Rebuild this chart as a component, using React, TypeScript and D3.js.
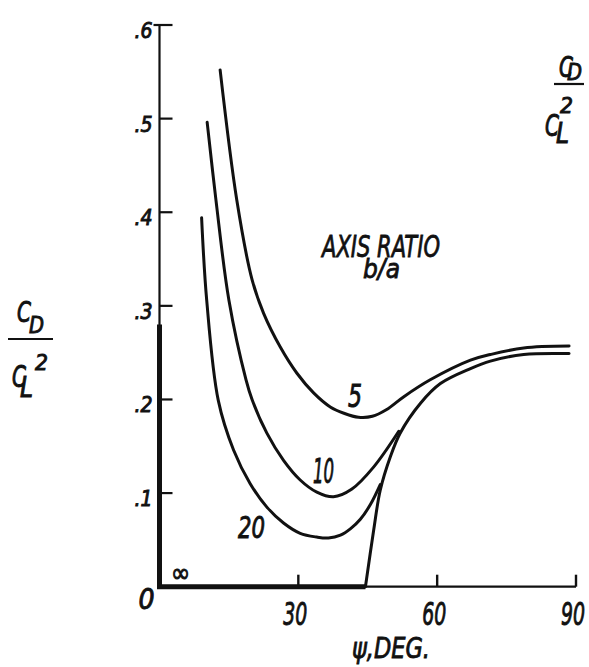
import React from "react";
import * as d3 from "d3";

// ---- data ----
const xTicks = [30, 60, 90];
const xTickLabels = ["30", "60", "90"];
const yTicks = [0, 0.1, 0.2, 0.3, 0.4, 0.5, 0.6];
const yTickLabels = ["0", ".1", ".2", ".3", ".4", ".5", ".6"];

const psi5 = [13.1, 16.7, 20.0, 22.5, 26.1, 29.7, 33.3, 36.9, 40.0, 43.0, 46.0, 49.0, 52.8, 58.5, 67.2, 71.5, 78.7, 88.5];
const cd5 = [0.552, 0.413, 0.328, 0.292, 0.256, 0.228, 0.207, 0.192, 0.185, 0.181, 0.182, 0.189, 0.203, 0.221, 0.242, 0.248, 0.255, 0.257];

const psi10 = [10.3, 12.2, 15.0, 18.7, 20.0, 23.2, 26.8, 30.4, 34.0, 37.6, 41.5, 46.3, 51.7];
const cd10 = [0.496, 0.413, 0.306, 0.221, 0.2, 0.164, 0.135, 0.114, 0.101, 0.096, 0.104, 0.128, 0.166];

const psi20 = [9.1, 10.2, 12.7, 16.0, 19.6, 23.2, 26.8, 30.4, 34.0, 36.5, 39.1, 41.3, 43.4, 45.6, 47.7];
const cd20 = [0.394, 0.306, 0.199, 0.146, 0.11, 0.085, 0.068, 0.057, 0.053, 0.052, 0.055, 0.062, 0.072, 0.088, 0.109];

// b/a = infinity: along the axes, then the rising branch
const psiInfAxis = [0, 0, 44.5];
const cdInfAxis = [0.28, 0, 0];
const psiInf = [44.5, 46.3, 47.7, 49.9, 52.0, 56.4, 60.7, 67.2, 71.5, 78.7, 88.5];
const cdInf = [0, 0.061, 0.103, 0.139, 0.164, 0.196, 0.217, 0.233, 0.241, 0.248, 0.249];

const seriesLabels = ["5", "10", "20", "∞"];

const FONT = "'Liberation Sans Narrow','DejaVu Sans Condensed','Roboto Condensed',sans-serif";
const INK = "#111";
const TW = 0.9; // text stroke to mimic lettering weight

function zip(xs: number[], ys: number[]): [number, number][] {
  return xs.map((x, i) => [x, ys[i]]);
}

type FracProps = {
  x: number; y: number; w: number;
  c1: [number, number]; d1: [number, number];
  sup: [number, number]; c2: [number, number]; l2: [number, number];
};

function Fraction({ x, y, w, c1, d1, sup, c2, l2 }: FracProps) {
  return (
    <g transform={`translate(${x},${y})`} fill={INK} stroke={INK} strokeWidth={TW} fontFamily={FONT} fontStyle="italic">
      <text x={c1[0]} y={c1[1]} fontSize={29} textLength={14} lengthAdjust="spacingAndGlyphs">C</text>
      <text x={d1[0]} y={d1[1]} fontSize={23} textLength={15} lengthAdjust="spacingAndGlyphs">D</text>
      <line x1={0} x2={w} y1={0} y2={0} stroke={INK} strokeWidth={2.2} />
      <text x={c2[0]} y={c2[1]} fontSize={31} textLength={14} lengthAdjust="spacingAndGlyphs">C</text>
      <text x={l2[0]} y={l2[1]} fontSize={28} textLength={13} lengthAdjust="spacingAndGlyphs">L</text>
      <text x={sup[0]} y={sup[1]} fontSize={22} textLength={13} lengthAdjust="spacingAndGlyphs">2</text>
    </g>
  );
}

export default function App() {
  const W = 589, H = 667;
  const x = d3.scaleLinear().domain([0, 90]).range([159.5, 576]);
  const y = d3.scaleLinear().domain([0, 0.6]).range([586.7, 25]);

  const smooth = d3
    .line<[number, number]>()
    .x((d) => x(d[0]))
    .y((d) => y(d[1]))
    .curve(d3.curveCatmullRom.alpha(0.5));
  const straight = d3
    .line<[number, number]>()
    .x((d) => x(d[0]))
    .y((d) => y(d[1]));

  const curves = [zip(psi5, cd5), zip(psi10, cd10), zip(psi20, cd20)];

  return (
    <svg
      width={W}
      height={H}
      viewBox={`0 0 ${W} ${H}`}
      style={{ position: "absolute", left: 0, top: 0, background: "#fff" }}
    >
      <rect width={W} height={H} fill="#fff" />
      {/* axes (thin parts) */}
      <line x1={x(0)} x2={x(0)} y1={y(0.6)} y2={y(0)} stroke={INK} strokeWidth={2.2} />
      <line x1={x(0)} x2={x(90)} y1={y(0)} y2={y(0)} stroke={INK} strokeWidth={2.2} />
      {/* y ticks */}
      {yTicks.map((t, i) =>
        t === 0 ? null : (
          <line
            key={"yt" + i}
            x1={t === 0.6 ? x(0) - 6 : x(0)}
            x2={x(0) + 13}
            y1={y(t)}
            y2={y(t)}
            stroke={INK}
            strokeWidth={2.2}
          />
        )
      )}
      <g fontFamily={FONT} fontStyle="italic" fill={INK} stroke={INK} strokeWidth={TW} textAnchor="end">
        {yTicks.map((t, i) => (
          <text
            key={"yl" + i}
            x={t === 0 ? x(0) - 5 : x(0) - 7}
            y={t === 0 ? y(t) + 22 : y(t) + 13}
            fontSize={t === 0 ? 28 : 21}
          >
            {yTickLabels[i]}
          </text>
        ))}
      </g>
      {/* x ticks */}
      {xTicks.map((t, i) => (
        <line key={"xt" + i} x1={x(t)} x2={x(t)} y1={y(0)} y2={y(0) - 12} stroke={INK} strokeWidth={2.4} />
      ))}
      <g fontFamily={FONT} fontStyle="italic" fill={INK} stroke={INK} strokeWidth={TW}>
        {xTicks.map((t, i) => (
          <text
            key={"xl" + i}
            x={x(t) - 15}
            y={y(0) + 38}
            fontSize={32}
            textLength={24}
            lengthAdjust="spacingAndGlyphs"
          >
            {xTickLabels[i]}
          </text>
        ))}
      </g>
      {/* curves */}
      {curves.map((c, i) => (
        <path key={"c" + i} d={smooth(c) || ""} fill="none" stroke={INK} strokeWidth={3} strokeLinecap="round" />
      ))}
      <path d={straight(zip(psiInfAxis, cdInfAxis)) || ""} fill="none" stroke={INK} strokeWidth={5} />
      <path d={smooth(zip(psiInf, cdInf)) || ""} fill="none" stroke={INK} strokeWidth={3} strokeLinecap="round" />

      {/* curve labels */}
      <g fontFamily={FONT} fontStyle="italic" fill={INK} stroke={INK} strokeWidth={TW}>
        <text x={348} y={407} fontSize={32} textLength={14} lengthAdjust="spacingAndGlyphs">{seriesLabels[0]}</text>
        <text x={313} y={483} fontSize={33} textLength={21} lengthAdjust="spacingAndGlyphs">{seriesLabels[1]}</text>
        <text x={238} y={538} fontSize={31} textLength={27} lengthAdjust="spacingAndGlyphs">{seriesLabels[2]}</text>
        <text x={171} y={582} fontSize={27} fontStyle="normal" textLength={19} lengthAdjust="spacingAndGlyphs">{seriesLabels[3]}</text>
      </g>

      <g fontFamily={FONT} fontStyle="italic" fill={INK} stroke={INK} strokeWidth={0.8}>
        {/* legend title */}
        <text x={322} y={257} fontSize={31} textLength={118} lengthAdjust="spacingAndGlyphs">
          AXIS RATIO
        </text>
        <text x={363} y={278} fontSize={27} textLength={37} lengthAdjust="spacingAndGlyphs">
          b/a
        </text>
        {/* x axis title */}
        <text x={352} y={658} fontSize={28} textLength={78} lengthAdjust="spacingAndGlyphs">
          ψ,DEG.
        </text>
      </g>

      {/* y axis titles */}
      <Fraction x={8} y={339} w={45} c1={[9, -17]} d1={[21, -6]} sup={[27, 31]} c2={[4, 48]} l2={[12, 58]} />
      <Fraction x={554} y={84} w={30} c1={[5, -7]} d1={[13, -4]} sup={[6, 29]} c2={[-9, 52]} l2={[2, 59]} />
    </svg>
  );
}
